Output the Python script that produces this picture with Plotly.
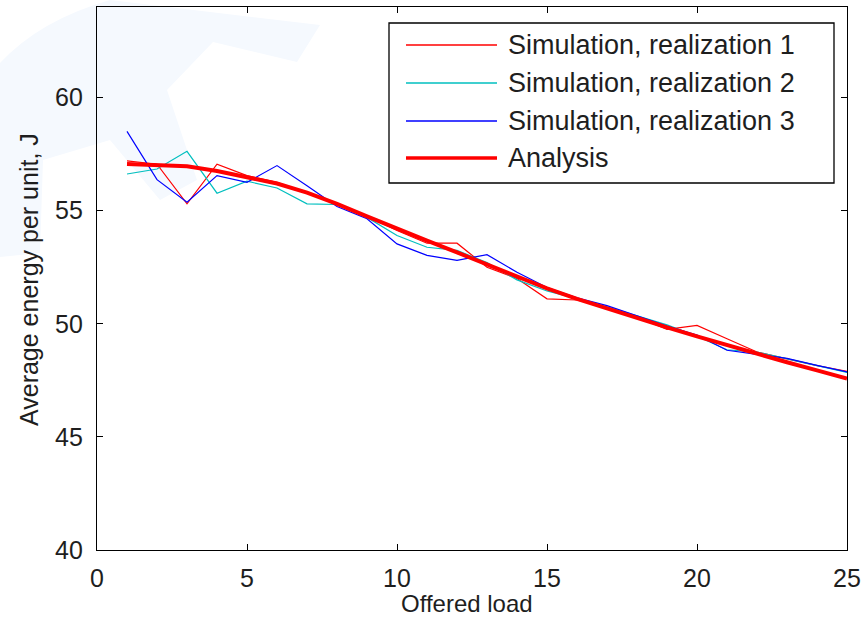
import plotly.graph_objects as go

offered_load = list(range(1, 26))
sim_real_1 = [57.2, 57.05, 55.3, 57.05, 56.55, 56.25, 55.8, 55.3, 54.75, 54.12,
              53.56, 53.56, 52.5, 52.0, 51.1, 51.05, 50.7, 50.3, 49.75, 49.93,
              49.34, 48.75, 48.45, 48.15, 47.9]
sim_real_2 = [56.62, 56.84, 57.62, 55.77, 56.3, 56.0, 55.3, 55.27, 54.7, 53.9,
              53.38, 53.24, 52.7, 51.94, 51.45, 51.1, 50.75, 50.35, 49.95, 49.45,
              48.85, 48.75, 48.45, 48.15, 47.85]
sim_real_3 = [58.5, 56.37, 55.37, 56.55, 56.25, 56.99, 56.1, 55.18, 54.64, 53.53,
              53.02, 52.8, 53.05, 52.28, 51.6, 51.15, 50.8, 50.35, 49.9, 49.5,
              48.83, 48.65, 48.47, 48.16, 47.87]
analysis = [57.06, 57.02, 56.96, 56.75, 56.47, 56.2, 55.8, 55.3, 54.75, 54.2,
            53.67, 53.15, 52.62, 52.09, 51.56, 51.1, 50.67, 50.25, 49.84, 49.44,
            49.05, 48.67, 48.3, 47.94, 47.58]

series_names = ["Simulation, realization 1", "Simulation, realization 2",
                "Simulation, realization 3", "Analysis"]
series_colors = ["#ff0000", "#00bfbf", "#0000ff", "#ff0000"]
series_widths = [1.2, 1.2, 1.2, 4]
x_ticks = [0, 5, 10, 15, 20, 25]
y_ticks = [40, 45, 50, 55, 60]
x_title = "Offered load"
y_title = "Average energy per unit, J"

W, H = 862, 620
L, R, T, B = 97, 847, 7, 550  # plot area in pixels
FONT = "Liberation Sans, Arial, sans-serif"
TXT = "#1e1e1e"


def px(xp):
    return (xp - L) / (R - L)


def py(yp):
    return (B - yp) / (B - T)


fig = go.Figure()

# faint watermark in the background
wm = ("M {a},{b} Q {c},{d} {e},{f} L {g},{h} L {i},{j} L {k},{l} L {m},{n} "
      "L {o},{p} L {q},{r} L {s},{t} L {u},{v} L {w},{x} L {y},{z} Z").format(
    a=px(0), b=py(63), c=px(40), d=py(20), e=px(110), f=py(0),
    g=px(320), h=py(25), i=px(297), j=py(62), k=px(213), l=py(42),
    m=px(167), n=py(90), o=px(197), p=py(180), q=px(160), r=py(200),
    s=px(110), t=py(140), u=px(43), v=py(160), w=px(40), x=py(253),
    y=px(0), z=py(257))
fig.add_shape(type="path", path=wm, xref="paper", yref="paper",
              fillcolor="#f5f9fe", line=dict(width=0), layer="below")

for name, vals, col, w in zip(series_names,
                              [sim_real_1, sim_real_2, sim_real_3, analysis],
                              series_colors, series_widths):
    fig.add_trace(go.Scatter(x=offered_load, y=vals, mode="lines", name=name,
                             line=dict(color=col, width=w), showlegend=False))

# manual MATLAB-style legend
fig.add_shape(type="rect", xref="paper", yref="paper",
              x0=px(389), x1=px(834), y0=py(183), y1=py(23),
              line=dict(color="#000000", width=1.3), fillcolor="white")
rows = [45, 83, 121, 158]
for name, col, w, yr in zip(series_names, series_colors, series_widths, rows):
    fig.add_shape(type="line", xref="paper", yref="paper",
                  x0=px(406), x1=px(497), y0=py(yr), y1=py(yr),
                  line=dict(color=col, width=min(w + 0.3, 3.5)))
    fig.add_annotation(text=name, xref="paper", yref="paper",
                       x=px(506), y=py(yr), xanchor="left", yanchor="middle",
                       showarrow=False, font=dict(family=FONT, size=27, color=TXT))

# axis titles
fig.add_annotation(text=x_title, xref="paper", yref="paper",
                   x=px(467), y=py(603), xanchor="center", yanchor="middle",
                   showarrow=False, borderpad=0,
                   font=dict(family=FONT, size=24, color=TXT))
fig.add_annotation(text=y_title, xref="paper", yref="paper",
                   x=px(29), y=py(280), xanchor="center", yanchor="middle",
                   textangle=-90, showarrow=False,
                   font=dict(family=FONT, size=25, color=TXT))

axis_common = dict(showline=True, linecolor="#000000", linewidth=1.3,
                   mirror="ticks", ticks="inside", ticklen=6, tickcolor="#000000",
                   showgrid=False, zeroline=False, automargin=False,
                   tickfont=dict(family=FONT, size=25, color=TXT))

fig.update_xaxes(range=[0, 25], tickvals=x_ticks, ticklabelstandoff=6,
                 **axis_common)
fig.update_yaxes(range=[40, 64], tickvals=y_ticks, ticklabelstandoff=8,
                 **axis_common)

fig.update_layout(width=W, height=H, autosize=False,
                  margin=dict(l=L, r=W - R, t=T, b=H - B),
                  paper_bgcolor="white", plot_bgcolor="rgba(0,0,0,0)",
                  showlegend=False)

fig.write_html("out.html")
